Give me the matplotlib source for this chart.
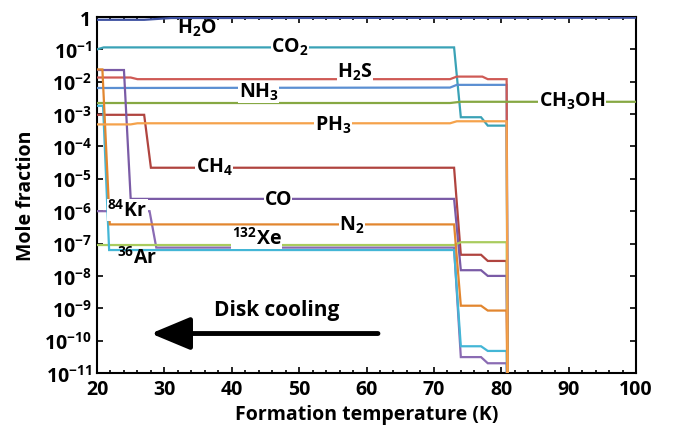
import numpy as np
import matplotlib
matplotlib.use("Agg")
import matplotlib.pyplot as plt
from matplotlib.ticker import FixedLocator, MultipleLocator, FuncFormatter

FONT = "Open Sans"
W = 'bold'
plt.rcParams['font.family'] = [FONT, 'DejaVu Sans']
plt.rcParams['font.weight'] = W
plt.rcParams['axes.labelweight'] = W
plt.rcParams['mathtext.fontset'] = 'custom'
plt.rcParams['mathtext.rm'] = FONT + ':weight=' + W
plt.rcParams['mathtext.it'] = FONT + ':weight=' + W
plt.rcParams['mathtext.bf'] = FONT + ':weight=bold'
plt.rcParams['mathtext.default'] = 'rm'

# ---- data (formation temperature K, mole fraction) ----
T_H2O = [20, 27, 31, 100]
X_H2O = [0.82, 0.82, 0.93, 0.95]

T_CO2 = [20, 21, 73, 74, 77, 78, 80.8, 81]
X_CO2 = [0.10, 0.115, 0.115, 8e-4, 8e-4, 4.4e-4, 4.4e-4, 1e-14]

T_H2S = [20, 25, 26, 72.4, 73.4, 77.2, 78, 80.8, 81]
X_H2S = [0.0135, 0.0135, 0.012, 0.012, 0.0144, 0.0144, 0.012, 0.012, 1e-14]

T_NH3 = [20, 72.4, 73.4, 80.8, 81]
X_NH3 = [6.4e-3, 6.6e-3, 8e-3, 8e-3, 1e-14]

T_CH3OH = [20, 72.4, 74, 100]
X_CH3OH = [2.2e-3, 2.2e-3, 2.4e-3, 2.4e-3]

T_PH3 = [20, 25, 26, 72.4, 73.4, 80.8, 81]
X_PH3 = [4.8e-4, 4.8e-4, 5.2e-4, 5.2e-4, 6.0e-4, 6.0e-4, 1e-14]

T_CH4 = [20, 27, 28, 73, 74, 77, 78, 80.8, 81]
X_CH4 = [9.5e-4, 9.5e-4, 2.2e-5, 2.2e-5, 4.5e-8, 4.5e-8, 2.9e-8, 2.9e-8, 1e-14]

T_CO = [20, 24, 25, 73, 74, 77, 78, 80.8, 81]
X_CO = [0.023, 0.023, 2.4e-6, 2.4e-6, 1.5e-8, 1.5e-8, 1.0e-8, 1.0e-8, 1e-14]

T_N2 = [20, 20.8, 21.9, 73, 74, 77, 78, 80.8, 81]
X_N2 = [0.024, 0.024, 3.9e-7, 3.9e-7, 1.2e-9, 1.2e-9, 8.5e-10, 8.5e-10, 1e-14]

T_Kr = [20, 27.8, 28.8, 73, 74, 77, 78, 80.8, 81]
X_Kr = [1.0e-6, 1.0e-6, 7.5e-8, 7.5e-8, 3.1e-11, 3.1e-11, 2.0e-11, 2.0e-11, 1e-14]

T_Xe = [20, 73, 74, 80.8, 81]
X_Xe = [9.0e-8, 9.0e-8, 1.1e-7, 1.1e-7, 1e-14]

T_Ar = [20, 20.9, 21.8, 73, 74, 77, 78, 80.8, 81]
X_Ar = [1.8e-3, 1.8e-3, 6.3e-8, 6.3e-8, 6.7e-11, 6.7e-11, 4.8e-11, 4.8e-11, 1e-14]

series = [
    (T_H2O, X_H2O, '#3c4fa0'),
    (T_CO2, X_CO2, '#3aa2b6'),
    (T_NH3, X_NH3, '#5b8fd2'),
    (T_H2S, X_H2S, '#cf5a55'),
    (T_CH3OH, X_CH3OH, '#86a843'),
    (T_CH4, X_CH4, '#b0443f'),
    (T_CO, X_CO, '#7a5ba6'),
    (T_Kr, X_Kr, '#8a6bb3'),
    (T_Xe, X_Xe, '#a9cc5e'),
    (T_Ar, X_Ar, '#43b6d6'),
    (T_N2, X_N2, '#e2862f'),
    (T_PH3, X_PH3, '#f5a24b'),
]

# label text, T position, log10 position, white gap behind?
labels = [
    (r'H$_2$O', 34.8, -0.33, False),
    (r'CO$_2$', 48.6, -0.895, True),
    (r'H$_2$S', 58.3, -1.67, True),
    (r'NH$_3$', 44.0, -2.31, True),
    (r'CH$_3$OH', 90.5, -2.59, True),
    (r'PH$_3$', 55.0, -3.33, True),
    (r'CH$_4$', 37.4, -4.60, True),
    (r'CO', 46.9, -5.62, True),
    (r'$^{84}$Kr', 24.5, -5.96, True),
    (r'N$_2$', 57.8, -6.42, True),
    (r'$^{132}$Xe', 43.7, -6.83, True),
    (r'$^{36}$Ar', 25.9, -7.40, False),
]

fig = plt.figure(figsize=(6.73, 4.35), dpi=100)
ax = fig.add_axes([97/673, 1-374/435, (636-97)/673, (374-18)/435])

for T, X, c in series:
    ax.plot(T, X, color=c, lw=1.6, solid_joinstyle='miter', zorder=3)

for txt, tx, ly, gap in labels:
    kw = {}
    if gap:
        kw['bbox'] = dict(facecolor='white', edgecolor='none', pad=0.3)
    ax.text(tx, 10**ly, txt, fontsize=14, ha='center', va='center',
            color='black', zorder=5, **kw)

ax.text(46.7, 10**-9.04, 'Disk cooling', fontsize=15, ha='center', va='center')
ax.annotate('', xy=(28.0, 10**-9.78), xytext=(61.7, 10**-9.78),
            arrowprops=dict(arrowstyle='-|>,head_length=1.2,head_width=0.5',
                            lw=3.5, color='black', mutation_scale=20,
                            shrinkA=0, shrinkB=0))

ax.set_yscale('log')
ax.set_xlim(20, 100)
ax.set_ylim(1e-11, 1)
ax.yaxis.set_major_locator(FixedLocator([10.0**k for k in range(-11, 1)]))
ax.yaxis.set_minor_locator(FixedLocator([]))

def yfmt(v, pos):
    k = int(round(np.log10(v)))
    return '1' if k == 0 else r'$10^{%d}$' % k
ax.yaxis.set_major_formatter(FuncFormatter(yfmt))
ax.xaxis.set_major_locator(MultipleLocator(10))
ax.xaxis.set_minor_locator(MultipleLocator(2))

ax.tick_params(which='both', direction='in', top=True, right=True,
               labelsize=14, width=1.2, color='black', pad=4)
ax.tick_params(which='major', length=4)
ax.tick_params(which='minor', length=2.5)
for s in ax.spines.values():
    s.set_linewidth(1.5)
    s.set_zorder(2)

ax.set_xlabel('Formation temperature (K)', fontsize=14, fontweight='bold', labelpad=4)
ax.set_ylabel('Mole fraction', fontsize=14, fontweight='bold', labelpad=6)

fig.savefig('out.png', dpi=100)
